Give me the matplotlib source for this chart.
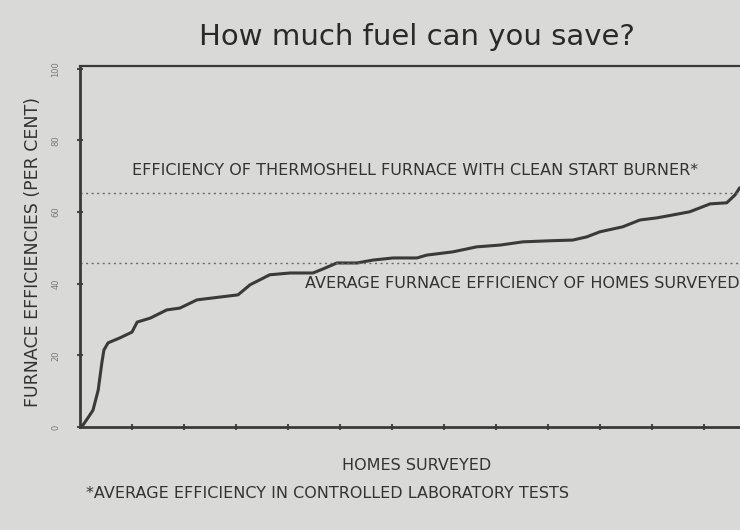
import matplotlib.pyplot as plt

# Homes surveyed (sorted by efficiency) and measured furnace efficiency (per cent)
homes = [0, 0.6, 1.5, 2.5, 3.5, 4.2, 4.6, 5.4, 7.7, 10.0, 11.0, 13.5, 16.7, 19.2,
         22.5, 30.4, 32.7, 36.5, 40.4, 44.8, 46.7, 49.4, 53.3, 56.3, 60.2, 64.8,
         66.7, 71.7, 76.3, 80.8, 85.2, 90.4, 94.8, 97.5, 100.0, 104.4, 107.7,
         111.0, 114.0, 117.3, 121.2, 124.4, 126.0, 126.9]
efficiency = [0, 0.6, 2.5, 4.7, 10.3, 17.9, 21.5, 23.5, 24.9, 26.5, 29.3, 30.4,
              32.7, 33.2, 35.5, 36.9, 39.7, 42.5, 43.0, 43.0, 44.1, 45.8, 45.8,
              46.6, 47.2, 47.2, 48.0, 48.9, 50.3, 50.8, 51.7, 52.0, 52.2, 53.1,
              54.5, 55.9, 57.8, 58.4, 59.2, 60.1, 62.3, 62.6, 64.8, 66.8]

thermoshell_eff = 65.4
average_eff = 45.8

y_ticks = [0, 20, 40, 60, 80, 100]
x_ticks = [10, 20, 30, 40, 50, 60, 70, 80, 90, 100, 110, 120]

bg = '#d9d9d7'
ink = '#333333'

fig = plt.figure(figsize=(7.4, 5.3), dpi=100, facecolor=bg)
# axes run past the right edge, as in the cropped scan
ax = fig.add_axes([80 / 740, 103 / 530, 680 / 740, 361 / 530])
ax.set_facecolor(bg)
ax.set_xlim(0, 130.8)
ax.set_ylim(0, 100.8)

ax.plot(homes, efficiency, color='#3a3a3a', lw=2.2, solid_capstyle='round')
ax.axhline(thermoshell_eff, color='#6a6a6a', lw=1.0, ls=(0, (1.5, 2.5)))
ax.axhline(average_eff, color='#6a6a6a', lw=1.0, ls=(0, (1.5, 2.5)))

for side in ['left', 'bottom', 'right']:
    ax.spines[side].set_color('#3a3a3a')
    ax.spines[side].set_linewidth(2)
ax.spines['top'].set_color('#3a3a3a')
ax.spines['top'].set_linewidth(1.6)

ax.set_yticks(y_ticks)
ax.set_yticklabels([str(v) for v in y_ticks], rotation=90, va='center',
                   fontsize=6, color='#7a7a7a')
ax.set_xticks(x_ticks)
ax.set_xticklabels([])
ax.tick_params(axis='both', direction='inout', length=4, width=1.5, color='#4a4a4a')
ax.tick_params(axis='y', pad=12)

txt_kw = dict(fontsize=11.5, color=ink, family='DejaVu Sans')
ax.text(10, thermoshell_eff + 6.2,
        'EFFICIENCY OF THERMOSHELL FURNACE WITH CLEAN START BURNER*',
        ha='left', va='center', **txt_kw)
ax.text(43.3, average_eff - 5.8,
        'AVERAGE FURNACE EFFICIENCY OF HOMES SURVEYED',
        ha='left', va='center', **txt_kw)

fig.text(417 / 740, 1 - 37 / 530, 'How much fuel can you save?',
         ha='center', va='center', fontsize=21, color='#2a2a2a',
         family='DejaVu Sans')
fig.text(417 / 740, 1 - 465 / 530, 'HOMES SURVEYED', ha='center', va='center',
         **txt_kw)
fig.text(86 / 740, 1 - 493 / 530,
         '*AVERAGE EFFICIENCY IN CONTROLLED LABORATORY TESTS',
         ha='left', va='center', **txt_kw)
fig.text(33 / 740, 1 - 252 / 530, 'FURNACE EFFICIENCIES (PER CENT)',
         ha='center', va='center', rotation=90,
         fontsize=12.5, color=ink, family='DejaVu Sans')

fig.savefig('out.png', dpi=100, facecolor=bg)
